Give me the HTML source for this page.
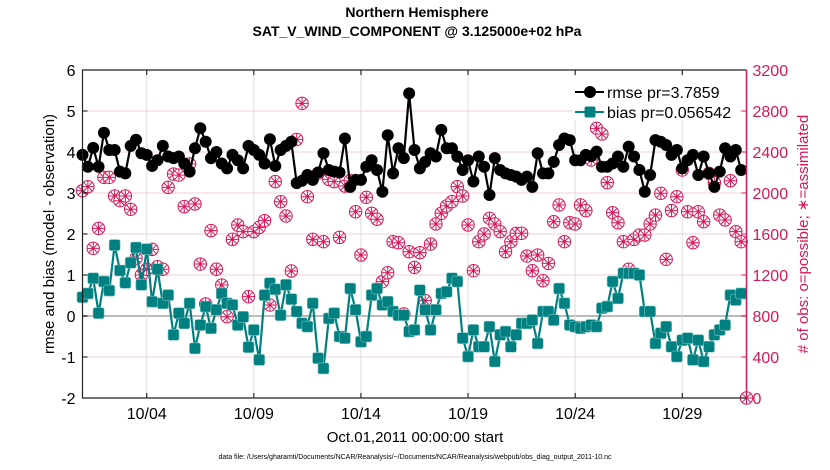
<!DOCTYPE html>
<html><head><meta charset="utf-8"><style>
html,body{margin:0;padding:0;background:#fff;}
svg{display:block;font-family:"Liberation Sans",Arial,sans-serif;}
</style></head><body>
<svg id="chart" width="830" height="470" viewBox="0 0 830 470">
<g id="grid"></g>
<g id="series"></g>
<g id="axes"></g>
<text x="417" y="17" text-anchor="middle" font-size="14" font-weight="bold">Northern Hemisphere</text>
<text x="417" y="36" text-anchor="middle" font-size="14" font-weight="bold">SAT_V_WIND_COMPONENT @ 3.125000e+02 hPa</text>
<text x="415" y="442" text-anchor="middle" font-size="15">Oct.01,2011 00:00:00 start</text>
<text x="415" y="459" text-anchor="middle" font-size="7">data file: /Users/gharamti/Documents/NCAR/Reanalysis/~/Documents/NCAR/Reanalysis/webpub/obs_diag_output_2011-10.nc</text>
<text transform="translate(54,234) rotate(-90)" text-anchor="middle" font-size="15">rmse and bias (model - observation)</text>
<text transform="translate(808,234) rotate(-90)" text-anchor="middle" font-size="15" fill="#d6175a"># of obs: o=possible; ∗=assimilated</text>
<g>
<rect x="572" y="76" width="168" height="44" fill="#fff"/>
<g>
<line x1="575" y1="92" x2="604" y2="92" stroke="#000" stroke-width="2"/>
<circle cx="590" cy="92" r="6" fill="#000"/>
<text x="607" y="98" font-size="16">rmse pr=3.7859</text>
</g>
<g>
<line x1="575" y1="112" x2="604" y2="112" stroke="#008080" stroke-width="2"/>
<rect x="584.5" y="106.5" width="11" height="11" rx="2" fill="#008080"/>
<text x="607" y="118" font-size="16">bias pr=0.056542</text>
</g>
</g>
</svg>
<script>
const rmse=[3.93,3.64,4.1,3.64,4.47,4.05,4.05,3.52,3.48,4.15,4.3,3.97,3.93,3.66,3.8,4.15,3.89,3.85,3.89,3.72,3.52,4.09,4.58,4.25,3.85,4.0,3.72,3.6,3.93,3.8,3.6,4.15,4.05,3.93,3.72,4.31,3.66,4.05,4.15,4.25,
3.24,3.3,3.44,3.32,3.5,3.97,3.56,3.52,3.5,4.33,3.15,3.32,3.32,3.64,3.8,3.56,3.03,4.41,3.48,4.09,3.85,5.43,4.05,3.6,3.76,3.97,3.89,4.54,4.09,4.09,3.89,3.56,3.8,3.28,3.89,3.64,2.95,3.85,3.56,3.48,3.44,3.4,3.32,
3.4,3.15,3.97,3.48,3.48,3.76,4.17,4.33,4.29,3.8,3.8,3.93,3.9,4.01,3.64,3.64,3.72,3.89,3.64,4.13,3.89,3.56,3.03,3.44,4.29,4.25,4.17,3.93,4.05,3.6,3.8,3.93,3.44,3.89,3.48,3.15,3.52,4.09,3.89,4.05,3.56,null];
const bias=[0.46,0.55,0.92,0.07,0.84,0.62,1.73,1.11,0.81,1.3,1.67,0.76,1.63,0.35,1.14,0.31,0.51,-0.46,0.07,-0.18,0.31,-0.79,-0.22,0.23,-0.3,0.15,0.55,0.31,0.27,-0.22,-0.02,-0.76,-0.34,-1.07,0.51,0.8,0.65,0.02,0.76,0.41,
0.11,-0.18,-0.26,0.31,-1.03,-1.28,-0.06,0.07,-0.5,-0.54,0.67,0.15,-0.63,-0.5,0.51,0.67,0.27,0.35,0.11,0.02,0.02,-0.38,-0.34,0.63,0.15,-0.34,0.15,0.55,0.59,0.92,0.84,-0.54,-0.99,-0.34,-0.75,-0.75,-0.26,-1.11,-0.46,-0.38,-0.75,-0.46,-0.18,
-0.18,-0.1,-0.67,0.11,0.11,-0.1,0.67,0.31,-0.22,-0.26,-0.3,-0.26,-0.22,-0.26,0.19,0.23,0.84,0.43,1.04,1.04,1.04,1.0,0.11,0.11,-0.67,-0.42,-0.26,-0.75,-0.99,-0.59,-0.54,-1.07,-0.59,-1.11,-0.75,-0.46,-0.34,-0.22,0.51,0.39,0.55,null];
const nobs=[2023,2062,1460,1655,2153,2153,1971,1925,1971,1841,1363,1200,1256,1450,1281,1256,2055,2185,2175,1867,2283,1893,1307,917,1633,1256,1102,793,1548,1688,1623,989,1623,1665,1730,907,2111,1915,1776,1239,2523,2875,
1964,1548,2192,1525,2133,2111,1567,2068,2120,1817,1395,1958,1802,1744,1135,1222,1525,1515,820,1427,1274,1418,950,1502,1698,1802,1874,1916,2062,1971,1688,1242,1525,1600,1753,1698,1623,1427,1525,1607,1607,
1385,1242,1395,1144,1313,1720,1883,1525,1710,1698,1883,1828,2322,2631,2576,2101,1808,1710,1525,1256,1548,1590,1590,1698,1785,1997,1353,1828,1964,2224,1817,1515,1817,1720,2192,2101,1785,1737,2120,1623,1525,0];
const leftTicks=[-2,-1,0,1,2,3,4,5,6];
const rightTicks=[0,400,800,1200,1600,2000,2400,2800,3200];
const xTickLabels=["10/04","10/09","10/14","10/19","10/24","10/29"];
const xTickDays=[3,8,13,18,23,28];

const L=82.5,R=746.5,T=70,B=398;
const xs=d=>L+(d/31)*(R-L);
const yl=v=>T+(6-v)/8*(B-T);
const yr=c=>B-c/3200*(B-T);
const NS='http://www.w3.org/2000/svg';
function mk(tag,parent,attrs){const e=document.createElementNS(NS,tag);for(const k in attrs)e.setAttribute(k,attrs[k]);parent.appendChild(e);return e;}
const grid=document.getElementById('grid'),series=document.getElementById('series'),axes=document.getElementById('axes');
const MAG='#d6175a';

leftTicks.forEach(v=>{
  const g=mk('line',grid,{x1:L,x2:R,y1:yl(v),y2:yl(v),stroke:v===0?'#bbb':'#f3cfdc','stroke-width':v===0?2:1});
  
  
  const t=mk('line',axes,{x1:L,x2:L+5,y1:yl(v),y2:yl(v),stroke:'#000'});
  
  
  const lb=mk('text',axes,{x:L-7,y:yl(v)+6,'text-anchor':'end','font-size':16});
  lb.textContent=v;
  
  
});
rightTicks.forEach(c=>{
  const t=mk('line',axes,{x1:R-5,x2:R,y1:yr(c),y2:yr(c),stroke:MAG});
  
  
  const lb=mk('text',axes,{x:R+6,y:yr(c)+6,'font-size':16,fill:MAG});
  lb.textContent=c;
  
  
});
xTickDays.forEach((d,i)=>{
  const g=mk('line',grid,{x1:xs(d),x2:xs(d),y1:T,y2:B,stroke:'#ddd'});
  
  
  const t=mk('line',axes,{x1:xs(d),x2:xs(d),y1:B-5,y2:B,stroke:'#000'});
  
  
  const t2=mk('line',axes,{x1:xs(d),x2:xs(d),y1:T,y2:T+5,stroke:'#000'});
  
  
  const lb=mk('text',axes,{x:xs(d),y:B+21,'text-anchor':'middle','font-size':16});
  lb.textContent=xTickLabels[i];
  
  
});
const fr=mk('path',axes,{d:`M${R},${T}H${L}V${B}H${R}`,fill:'none',stroke:'#222','stroke-width':1.2});


const ra=mk('line',axes,{x1:R,x2:R,y1:T,y2:B,stroke:MAG,'stroke-width':1.5});



nobs.forEach((c,i)=>{
  const x=xs(i/4),y=yr(c);
  const g=mk('g',series,{stroke:MAG,fill:'none','stroke-width':1});
  
  
  mk('circle',g,{cx:x,cy:y,r:6.2,fill:'#fff'});
  mk('path',g,{d:`M${x-6},${y}H${x+6}M${x},${y-6}V${y+6}M${x-4.2},${y-4.2}L${x+4.2},${y+4.2}M${x-4.2},${y+4.2}L${x+4.2},${y-4.2}`});
});
function drawLine(arr,color,name){
  let d='';arr.forEach((v,i)=>{if(v!==null)d+=(d?'L':'M')+xs(i/4).toFixed(1)+','+yl(v).toFixed(1);});
  const p=mk('path',series,{d:d,fill:'none',stroke:color,'stroke-width':2.2});
  
  
}
drawLine(bias,'#008080','bias-line');
bias.forEach((v,i)=>{if(v===null)return;
  const m=mk('rect',series,{x:xs(i/4)-5.5,y:yl(v)-5.5,width:11,height:11,rx:2,fill:'#008080',stroke:'#7fc0c0','stroke-width':0.6});
  
  
});
drawLine(rmse,'#000','rmse-line');
rmse.forEach((v,i)=>{if(v===null)return;
  const m=mk('circle',series,{cx:xs(i/4),cy:yl(v),r:6,fill:'#000'});
  
  
});
</script>
</body></html>
